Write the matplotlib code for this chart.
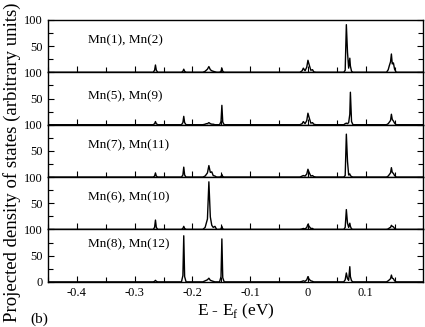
import matplotlib
matplotlib.use("Agg")
import matplotlib.pyplot as plt
from matplotlib.ticker import FixedLocator, MultipleLocator

plt.rcParams['font.family'] = ['Liberation Serif', 'DejaVu Serif']
plt.rcParams['mathtext.fontset'] = 'custom'
plt.rcParams['mathtext.rm'] = 'Liberation Serif'
plt.rcParams['axes.unicode_minus'] = False

# energy vertices (eV), shared by all panels
energy = [-0.45,
          -0.268, -0.2655, -0.264, -0.2625, -0.260,
          -0.219, -0.2165, -0.215, -0.2135, -0.211,
          -0.182, -0.178, -0.176, -0.174, -0.1715, -0.169, -0.1665, -0.164, -0.161, -0.158,
          -0.153, -0.1505, -0.149, -0.1475, -0.145,
          -0.014, -0.010, -0.008, -0.005, -0.002, 0.0, 0.002, 0.005, 0.008, 0.010, 0.014,
          0.062, 0.0645, 0.0665, 0.0685, 0.0705, 0.0725, 0.0735, 0.0755, 0.078,
          0.136, 0.139, 0.141, 0.143, 0.1445, 0.146, 0.148, 0.150, 0.153,
          0.20]

dos_mn1_mn2 = [0,
               0, 4, 14, 4, 0,
               0, 2, 6, 2, 0,
               0, 2, 4, 6, 11, 5, 3, 2, 1, 0,
               0, 2, 8, 2, 0,
               0, 3, 8, 3, 10, 23, 15, 4, 5, 1, 0,
               0, 4, 91, 38, 8, 27, 12, 2, 0,
               0, 5, 13, 20, 35, 16, 18, 6, 0,
               0]
dos_mn5_mn9 = [0,
               0, 2, 6, 2, 0,
               0, 4, 16, 4, 0,
               0, 1, 2, 2, 4, 2, 1, 1, 0, 0,
               0, 6, 37, 5, 0,
               0, 2, 6, 2, 8, 22, 14, 3, 4, 1, 0,
               0, 2, 3, 2, 4, 20, 62, 6, 0,
               0, 2, 5, 8, 20, 10, 7, 3, 0,
               0]
dos_mn7_mn11 = [0,
                0, 2, 8, 2, 0,
                0, 4, 19, 4, 0,
                0, 2, 5, 8, 22, 9, 10, 3, 2, 0,
                0, 1, 5, 1, 0,
                0, 2, 3, 2, 6, 15, 9, 2, 3, 1, 0,
                0, 3, 82, 30, 4, 6, 3, 1, 0,
                0, 2, 5, 8, 18, 9, 7, 3, 0,
                0]
dos_mn6_mn10 = [0,
                0, 4, 18, 4, 0,
                0, 2, 6, 2, 0,
                0, 4, 12, 20, 91, 24, 8, 4, 6, 0,
                0, 1, 6, 1, 0,
                0, 1, 2, 1, 4, 10, 6, 2, 2, 0, 0,
                0, 4, 38, 12, 4, 12, 6, 1, 0,
                0, 1, 3, 4, 8, 6, 5, 2, 0,
                0]
dos_mn8_mn12 = [0,
                0, 1, 3, 1, 0,
                0, 12, 88, 10, 0,
                0, 2, 3, 4, 7, 3, 2, 1, 0, 0,
                0, 10, 82, 8, 0,
                0, 1, 2, 1, 4, 10, 5, 2, 1, 0, 0,
                0, 4, 17, 6, 3, 29, 10, 2, 0,
                0, 2, 4, 6, 13, 7, 6, 2, 0,
                0]

panel_labels = ['Mn(1), Mn(2)', 'Mn(5), Mn(9)', 'Mn(7), Mn(11)',
                'Mn(6), Mn(10)', 'Mn(8), Mn(12)']
panel_dos = [dos_mn1_mn2, dos_mn5_mn9, dos_mn7_mn11, dos_mn6_mn10, dos_mn8_mn12]
xticks = [-0.4, -0.3, -0.2, -0.1, 0.0, 0.1]
xtick_labels = ['-0.4', '-0.3', '-0.2', '-0.1', '0', '0.1']
xminor = [-0.45, -0.35, -0.25, -0.15, -0.05, 0.05, 0.15]

fig, axes = plt.subplots(5, 1, sharex=True, figsize=(4.25, 3.27), dpi=100)
fig.subplots_adjust(left=0.113, right=0.995, top=0.939, bottom=0.138, hspace=0)

label_y = [61, 55, 60, 61, 72]
for i, ax in enumerate(axes):
    ax.plot(energy, panel_dos[i], color='black', lw=1.0)
    ax.set_xlim(-0.45, 0.199)
    ax.set_ylim(0, 100)
    ax.set_yticks([0, 50, 100])
    if i == len(axes) - 1:
        ax.set_yticklabels(['0', '50', '100'])
    else:
        ax.set_yticklabels(['', '50', '100'])
    ax.yaxis.set_minor_locator(MultipleLocator(25))
    ax.xaxis.set_major_locator(FixedLocator(xticks))
    ax.xaxis.set_minor_locator(FixedLocator(xminor))
    ax.tick_params(which='both', direction='in', top=False, right=True,
                   labelsize=9, width=0.8)
    ax.tick_params(which='major', length=4.5)
    ax.tick_params(which='minor', length=3.5)
    for s in ax.spines.values():
        s.set_linewidth(1.0)
    ax.text(-0.381, label_y[i], panel_labels[i], fontsize=9.5, va='center')

axes[-1].set_xticklabels(xtick_labels)
axes[-1].set_xlabel(r'E - E$_\mathregular{f}$ (eV)', fontsize=12.5, labelpad=2)
fig.text(0.028, 0.505, 'Projected density of states (arbitrary units)',
         rotation=90, va='center', ha='center', fontsize=13.5)
fig.text(0.072, 0.025, '(b)', fontsize=11, ha='left', va='center')

fig.savefig('out.png', dpi=100)
